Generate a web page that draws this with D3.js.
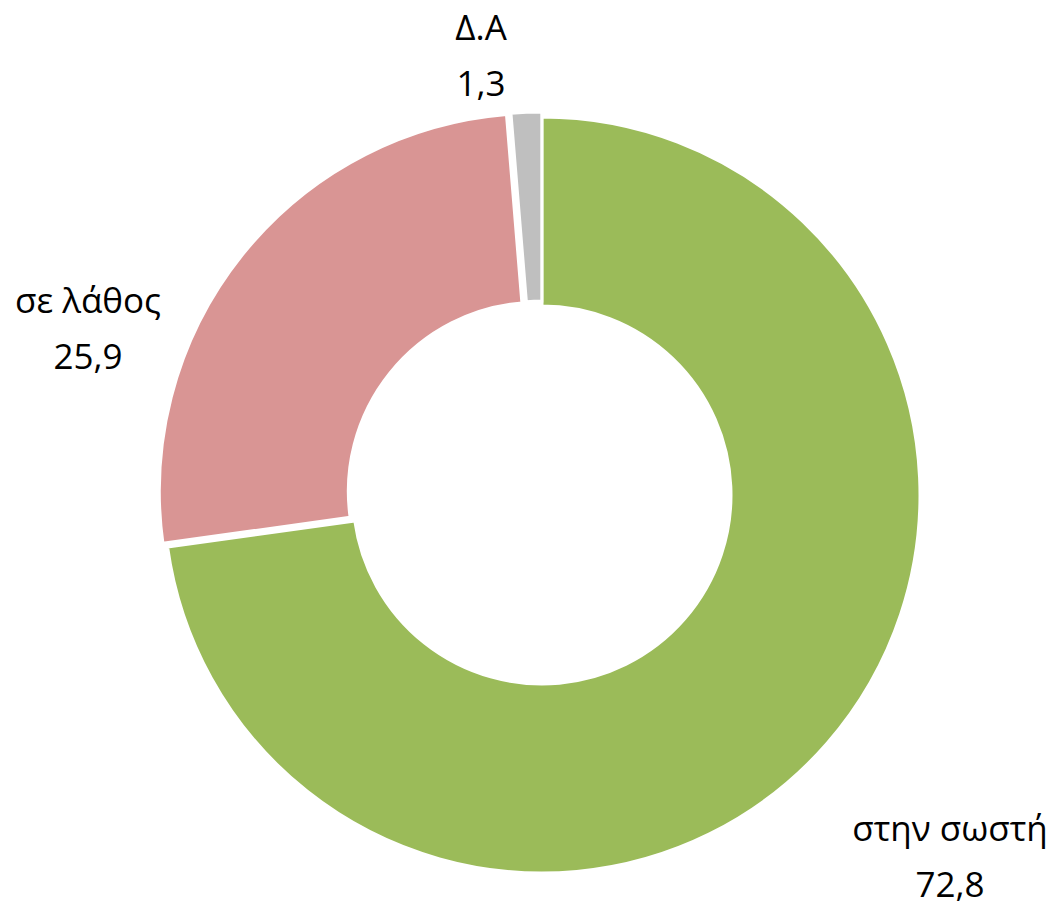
<!DOCTYPE html>
<html>
  <head>
    <meta charset="utf-8">
    <style>
      body { margin: 0; background: #fff; }
      text { font-family: "Open Sans", "Noto Sans", sans-serif; fill: #000; }
    </style>
  </head>
  <body>
    <script src="https://d3js.org/d3.v7.min.js"></script>
    <script>
    var labels = ["στην σωστή", "σε λάθος", "Δ.Α"];
    var values = [72.8, 25.9, 1.3];
    var valueLabels = ["72,8", "25,9", "1,3"];

    var width = 1056, height = 901;
    var cx = 542, cy = 495, outerR = 378, innerR = 189;
    // small pull-out for the two smaller slices
    var explode = [0, 6, 5];
    // label anchor points (centre x, baseline of first line)
    var labelPos = [[950, 841], [88, 313], [481, 40]];
    var colors = d3.scaleOrdinal().domain(labels).range(["#9BBB59", "#D99594", "#BFBFBF"]);

    var svg = d3.select("body").append("svg")
        .attr("width", width)
        .attr("height", height);

    var pie = d3.pie().sort(null).value(function(d) { return d; });
    var arcs = pie(values);
    var arc = d3.arc().innerRadius(innerR).outerRadius(outerR);

    var g = svg.append("g").attr("transform", "translate(" + cx + "," + cy + ")");

    g.selectAll("path")
      .data(arcs)
      .enter().append("path")
        .attr("d", arc)
        .attr("fill", function(d, i) { return colors(labels[i]); })
        .attr("stroke", "#fff")
        .attr("stroke-width", 3)
        .attr("transform", function(d, i) {
          var a = (d.startAngle + d.endAngle) / 2;
          return "translate(" + (Math.sin(a) * explode[i]) + "," + (-Math.cos(a) * explode[i]) + ")";
        });

    var lbl = svg.selectAll("g.lbl")
      .data(arcs)
      .enter().append("g")
        .attr("class", "lbl")
        .attr("transform", function(d, i) { return "translate(" + labelPos[i][0] + "," + labelPos[i][1] + ")"; });

    lbl.append("text")
        .attr("text-anchor", "middle")
        .attr("font-size", 35)
        .text(function(d, i) { return labels[i]; });

    lbl.append("text")
        .attr("text-anchor", "middle")
        .attr("font-size", 35)
        .attr("y", 56)
        .text(function(d, i) { return valueLabels[i]; });
    </script>
  </body>
</html>
